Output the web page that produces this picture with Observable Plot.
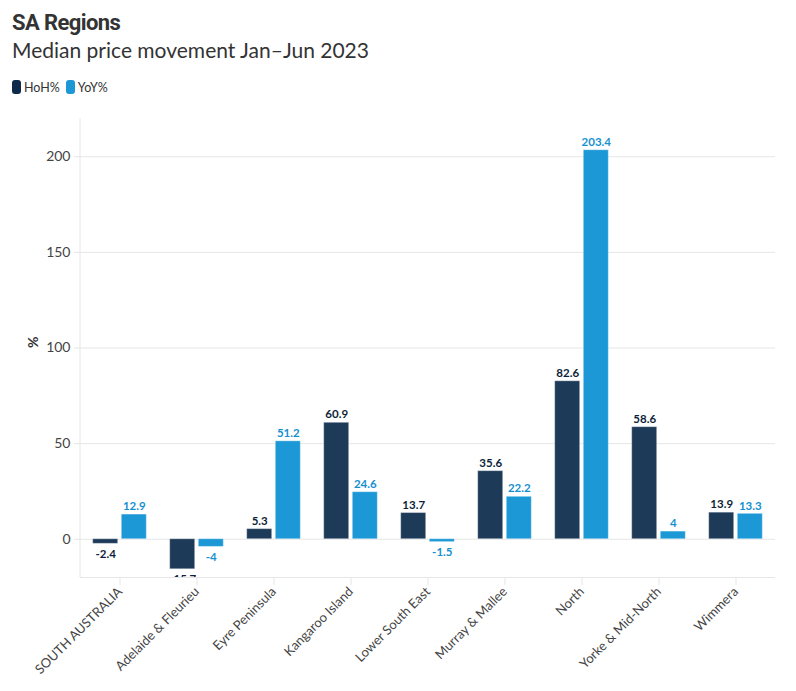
<!DOCTYPE html>
<html>
<head>
<meta charset="utf-8">
<script src="https://cdn.jsdelivr.net/npm/d3@7"></script>
<script src="https://cdn.jsdelivr.net/npm/@observablehq/plot@0.6"></script>
<style>
  body { margin: 0; background: #fff; font-family: Lato, "Noto Sans", sans-serif; color: #333; }
  #wrap { width: 796px; height: 691px; overflow: hidden; }
  h1 { margin: 0; padding: 9px 0 0 12px; height: 27px; font-family: Roboto, sans-serif; font-weight: 700; font-size: 22px; line-height: 27px; letter-spacing: -0.6px; color: #333; }
  h2 { margin: 0; padding: 0 0 0 12px; height: 28px; font-family: Lato, sans-serif; font-weight: 400; font-size: 21px; line-height: 28px; color: #333; }
  #legend { margin: 0; padding: 16px 0 0 12px; height: 20px; display: flex; gap: 6px; font-family: Lato, sans-serif; font-size: 12.5px; color: #333; }
  #legend span.item { display: flex; align-items: center; gap: 3px; height: 14px; }
  #legend span.sw { display: inline-block; width: 9px; height: 14px; border-radius: 3px; }
  #chart { height: 591px; }
  #chart svg { display: block; }
</style>
</head>
<body>
<div id="wrap">
  <h1>SA Regions</h1>
  <h2>Median price movement Jan–Jun 2023</h2>
  <div id="legend"></div>
  <div id="chart"></div>
</div>
<script>
const regions = ["SOUTH AUSTRALIA", "Adelaide & Fleurieu", "Eyre Peninsula", "Kangaroo Island", "Lower South East", "Murray & Mallee", "North", "Yorke & Mid-North", "Wimmera"];
const hoh = [-2.4, -15.7, 5.3, 60.9, 13.7, 35.6, 82.6, 58.6, 13.9];
const yoy = [12.9, -4, 51.2, 24.6, -1.5, 22.2, 203.4, 4, 13.3];
const seriesNames = ["HoH%", "YoY%"];
const barColors = ["#1d3a58", "#1b98d5"];
const labelColors = ["#0e1f3a", "#1590d0"];
const yTicks = [0, 50, 100, 150, 200];

const legend = document.getElementById("legend");
seriesNames.forEach((s, i) => {
  const it = document.createElement("span");
  it.className = "item";
  it.innerHTML = `<span class="sw" style="background:${i === 0 ? '#0d2a4a' : barColors[1]}"></span>${s}`;
  legend.appendChild(it);
});

const seriesValues = [hoh, yoy];
const marks = [];
seriesNames.forEach((s, si) => {
  const d = regions.map((r, i) => ({region: r, value: seriesValues[si][i]}));
  const dx = si === 0 ? -14.3 : 14.3;
  marks.push(Plot.barY(d, {x: "region", y: "value", fill: barColors[si], stroke: "#ffffff", strokeOpacity: 0.35, strokeWidth: 1, dx}));
  marks.push(Plot.text(d.filter(e => e.value >= 0), {x: "region", y: "value", text: e => String(e.value), dx, dy: -8, fill: labelColors[si], fontWeight: 700, fontSize: 11.5}));
  marks.push(Plot.text(d.filter(e => e.value < 0), {x: "region", y: "value", text: e => String(e.value), dx, dy: 10, fill: labelColors[si], fontWeight: 700, fontSize: 11.5, clip: true}));
});

let chart;
try {
  chart = Plot.plot({
    width: 796,
    height: 591,
    marginLeft: 80,
    marginRight: 21,
    marginTop: 18,
    marginBottom: 114,
    style: {fontFamily: "Lato, sans-serif", fontSize: "13px", color: "#444", background: "transparent", overflow: "visible"},
    x: {domain: regions, paddingInner: 0.68, paddingOuter: 0.34, label: null},
    y: {domain: [-20, 220], label: null},
    marks: [
      Plot.gridY(yTicks, {stroke: "#e6e6e6", strokeOpacity: 1}),
      Plot.ruleY([-20], {stroke: "#e6e6e6"}),
      Plot.axisY(yTicks, {tickSize: 6, tickPadding: 4, stroke: "#e6e6e6", fill: "#444", fontSize: 14, label: null}),
      Plot.axisX({tickSize: 8, tickPadding: 4, tickRotate: -45, stroke: "#e6e6e6", fill: "#444", fontSize: 13, label: null}),
      Plot.text(["%"], {frameAnchor: "left", dx: -47, rotate: -90, fontWeight: 700, fontSize: 14, fill: "#333"}),
      ...marks
    ]
  });
  // left frame line
  const svg = d3.select(chart);
  svg.insert("line", ":first-child")
    .attr("x1", 80).attr("x2", 80).attr("y1", 18).attr("y2", 591 - 114)
    .attr("stroke", "#e6e6e6");
} catch (e) {
  chart = document.createElement("pre");
  chart.textContent = String(e.stack || e);
}
document.getElementById("chart").appendChild(chart);
</script>
</body>
</html>
